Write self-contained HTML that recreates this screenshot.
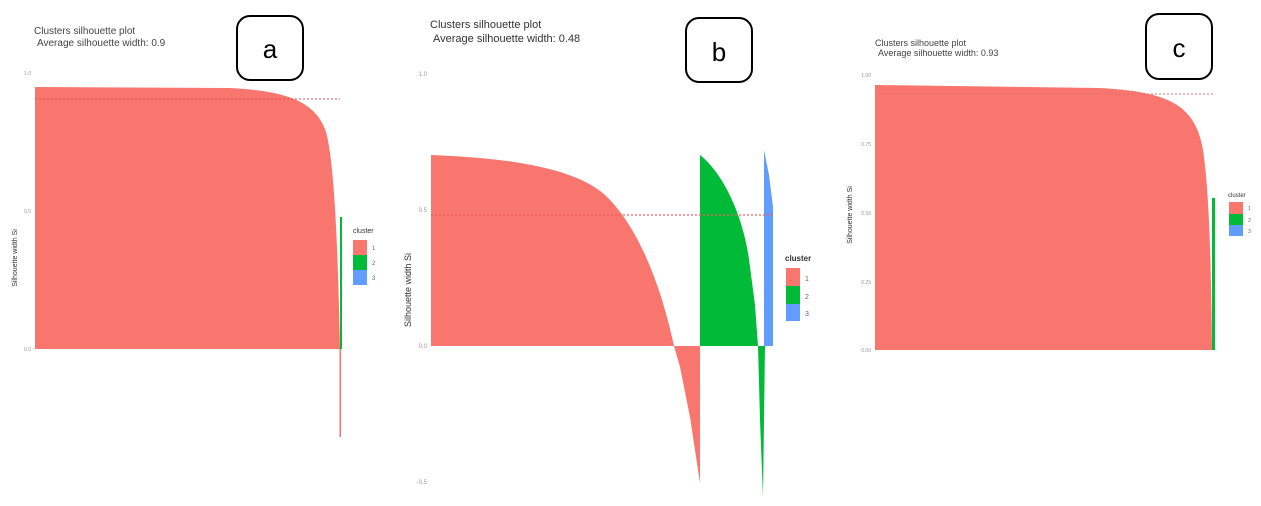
<!DOCTYPE html>
<html><head><meta charset="utf-8"><style>html,body{margin:0;padding:0;background:#fff}svg{display:block}text{font-family:"Liberation Sans",sans-serif}</style></head>
<body>
<svg width="1261" height="506" viewBox="0 0 1261 506" xmlns="http://www.w3.org/2000/svg">
<!-- Panel a -->
<text x="34" y="34" font-size="10" fill="#444">Clusters silhouette plot</text>
<text x="37" y="46" font-size="10" fill="#444">Average silhouette width: 0.9</text>
<rect x="237" y="16" width="66" height="64" rx="13" fill="#fff" stroke="#000" stroke-width="2"/>
<text x="270" y="58" font-size="26" text-anchor="middle" fill="#000">a</text>
<text x="31" y="75" font-size="5" fill="#999" text-anchor="end">1.0</text>
<text x="31" y="213" font-size="5" fill="#999" text-anchor="end">0.5</text>
<text x="31" y="351" font-size="5" fill="#999" text-anchor="end">0.0</text>
<text transform="translate(17,258) rotate(-90)" font-size="7" fill="#333" text-anchor="middle">Silhouette width Si</text>
<path d="M35,87 L230,88 C290,91 316,103 326,132 C335,165 338,260 340,349 L35,349Z" fill="#f8766d"/>
<rect x="339.5" y="349" width="1.5" height="88" fill="#f8766d"/>
<rect x="340" y="217" width="2" height="132" fill="#00ba38"/>
<line x1="35" y1="99" x2="340" y2="99" stroke="#e05050" stroke-width="1" stroke-dasharray="2,2"/>
<text x="353" y="233" font-size="7" fill="#333">cluster</text>
<rect x="353" y="240" width="14" height="15" fill="#f8766d"/>
<rect x="353" y="255" width="14" height="15" fill="#00ba38"/>
<rect x="353" y="270" width="14" height="15" fill="#619cff"/>
<text x="372" y="250" font-size="6" fill="#666">1</text>
<text x="372" y="265" font-size="6" fill="#666">2</text>
<text x="372" y="280" font-size="6" fill="#666">3</text>

<!-- Panel b -->
<text x="430" y="28" font-size="11" fill="#333">Clusters silhouette plot</text>
<text x="433" y="42" font-size="11" fill="#333">Average silhouette width: 0.48</text>
<rect x="686" y="18" width="66" height="64" rx="13" fill="#fff" stroke="#000" stroke-width="2"/>
<text x="719" y="61" font-size="26" text-anchor="middle" fill="#000">b</text>
<text x="427" y="76" font-size="6" fill="#999" text-anchor="end">1.0</text>
<text x="427" y="212" font-size="6" fill="#999" text-anchor="end">0.5</text>
<text x="427" y="348" font-size="6" fill="#999" text-anchor="end">0.0</text>
<text x="427" y="484" font-size="6" fill="#999" text-anchor="end">-0.5</text>
<text transform="translate(411,290) rotate(-90)" font-size="9" fill="#333" text-anchor="middle">Silhouette width Si</text>
<path d="M431,155 C510,158 575,168 605,195 C640,228 662,290 674,346 L680,367 L690,417 L700,483 L700,346 L431,346Z" fill="#f8766d"/>
<path d="M700,155 C725,175 745,220 750,267 L755,305 L758,346 L700,346Z" fill="#00ba38"/>
<path d="M758,346 L765,346 L764,420 L763,497 L760,420Z" fill="#00ba38"/>
<path d="M764,150 L769,175 L773,207 L773,346 L764,346Z" fill="#619cff"/>
<line x1="431" y1="215" x2="773" y2="215" stroke="#f06060" stroke-width="1.2" stroke-dasharray="2,2"/>
<text x="785" y="261" font-size="8" font-weight="bold" fill="#333">cluster</text>
<rect x="786" y="268" width="14" height="18" fill="#f8766d"/>
<rect x="786" y="286" width="14" height="18" fill="#00ba38"/>
<rect x="786" y="304" width="14" height="17" fill="#619cff"/>
<text x="805" y="281" font-size="7" fill="#666">1</text>
<text x="805" y="299" font-size="7" fill="#666">2</text>
<text x="805" y="316" font-size="7" fill="#666">3</text>

<!-- Panel c -->
<text x="875" y="46" font-size="9" fill="#444">Clusters silhouette plot</text>
<text x="878" y="56" font-size="9" fill="#444">Average silhouette width: 0.93</text>
<rect x="1146" y="14" width="66" height="65" rx="13" fill="#fff" stroke="#000" stroke-width="2"/>
<text x="1179" y="57" font-size="26" text-anchor="middle" fill="#000">c</text>
<text x="871" y="77" font-size="5" fill="#999" text-anchor="end">1.00</text>
<text x="871" y="146" font-size="5" fill="#999" text-anchor="end">0.75</text>
<text x="871" y="215" font-size="5" fill="#999" text-anchor="end">0.50</text>
<text x="871" y="284" font-size="5" fill="#999" text-anchor="end">0.25</text>
<text x="871" y="352" font-size="5" fill="#999" text-anchor="end">0.00</text>
<text transform="translate(852,215) rotate(-90)" font-size="7" fill="#333" text-anchor="middle">Silhouette width Si</text>
<path d="M875,85 L1100,88 C1170,92 1195,105 1203,150 C1209,190 1211,260 1212,350 L875,350Z" fill="#f8766d"/>
<rect x="1212" y="198" width="3" height="152" fill="#00ba38"/>
<line x1="875" y1="94" x2="1215" y2="94" stroke="#e07070" stroke-width="1" stroke-dasharray="2,2"/>
<text x="1228" y="197" font-size="6" fill="#333">cluster</text>
<rect x="1229" y="202" width="14" height="12" fill="#f8766d"/>
<rect x="1229" y="214" width="14" height="11" fill="#00ba38"/>
<rect x="1229" y="225" width="14" height="11" fill="#619cff"/>
<text x="1248" y="210" font-size="5" fill="#666">1</text>
<text x="1248" y="222" font-size="5" fill="#666">2</text>
<text x="1248" y="233" font-size="5" fill="#666">3</text>
</svg>
</body></html>
